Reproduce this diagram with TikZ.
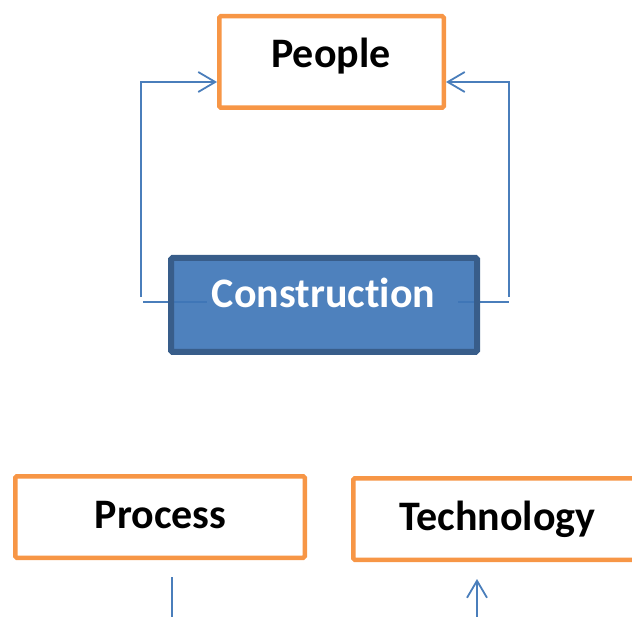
\documentclass[tikz,border=0pt]{standalone}
\usepackage{fontspec}
\setmainfont{Carlito}[Ligatures={NoCommon,NoContextual}]
\usetikzlibrary{arrows.meta}
\definecolor{ora}{HTML}{F79646}
\definecolor{bfill}{HTML}{3F76B7}
\definecolor{bdraw}{HTML}{385D8A}
\definecolor{conn}{HTML}{4A7EBB}
\tikzset{
  obox/.style={draw=ora, line width=4.5pt, fill=white, rounded corners=1.5pt, inner sep=0pt},
  bbox/.style={draw=bdraw, line width=6pt, fill=bfill, fill opacity=0.92, rounded corners=1.5pt, inner sep=0pt},
  lbl/.style={anchor=base, inner sep=0pt, font=\fontsize{42}{50}\selectfont\bfseries},
  cline/.style={draw=conn, line width=1.8pt},
  openarrow/.style={-{Straight Barb[length=17pt,width=20pt,line width=1.8pt]}}
}
\begin{document}
\begin{tikzpicture}[x=1pt,y=-1pt]
\useasboundingbox (0,0) rectangle (632,617);
\clip (0,0) rectangle (632,617);
% connector end points
\coordinate (lh1) at (207,302);
\coordinate (lh2) at (143,302);
\coordinate (lv1) at (141,297);
\coordinate (lv2) at (141,82);
\coordinate (rh1) at (458,302);
\coordinate (rh2) at (509,302);
\coordinate (rv1) at (509,297);
\coordinate (rv2) at (509,82);
% boxes
\node[obox, minimum width=224.5pt, minimum height=91.5pt] (people) at (331.5,62) {};
\path[cline] (lh1) -- (lh2);
\path[cline] (rh1) -- (rh2);
\node[bbox, minimum width=306pt, minimum height=94pt] (cons) at (324,305) {};
\path[cline, openarrow] (lv1) -- (lv2) -- (people.west |- lv2);
\path[cline, openarrow] (rv1) -- (rv2) -- (people.east |- rv2);
\node[obox, minimum width=289.5pt, minimum height=81.5pt] (proc) at (160,517) {};
\node[obox, minimum width=287.5pt, minimum height=81.5pt] (tech) at (497,519) {};
% labels
\node[lbl] (peoplet) at (331,68) {People};
\node[lbl, text=white] (const) at (323.5,308) {Construction};
\node[lbl] (proct) at (160.5,528) {Process};
\node[lbl] (techt) at (497.5,530) {Technology};
% bottom connectors
\coordinate (pl1) at (172,577);
\coordinate (pl2) at (172,620);
\coordinate (tl1) at (477,620);
\coordinate (tl2) at (477,579);
\path[cline] (pl1) -- (pl2);
\path[cline, openarrow] (tl1) -- (tl2);
\end{tikzpicture}
\end{document}
